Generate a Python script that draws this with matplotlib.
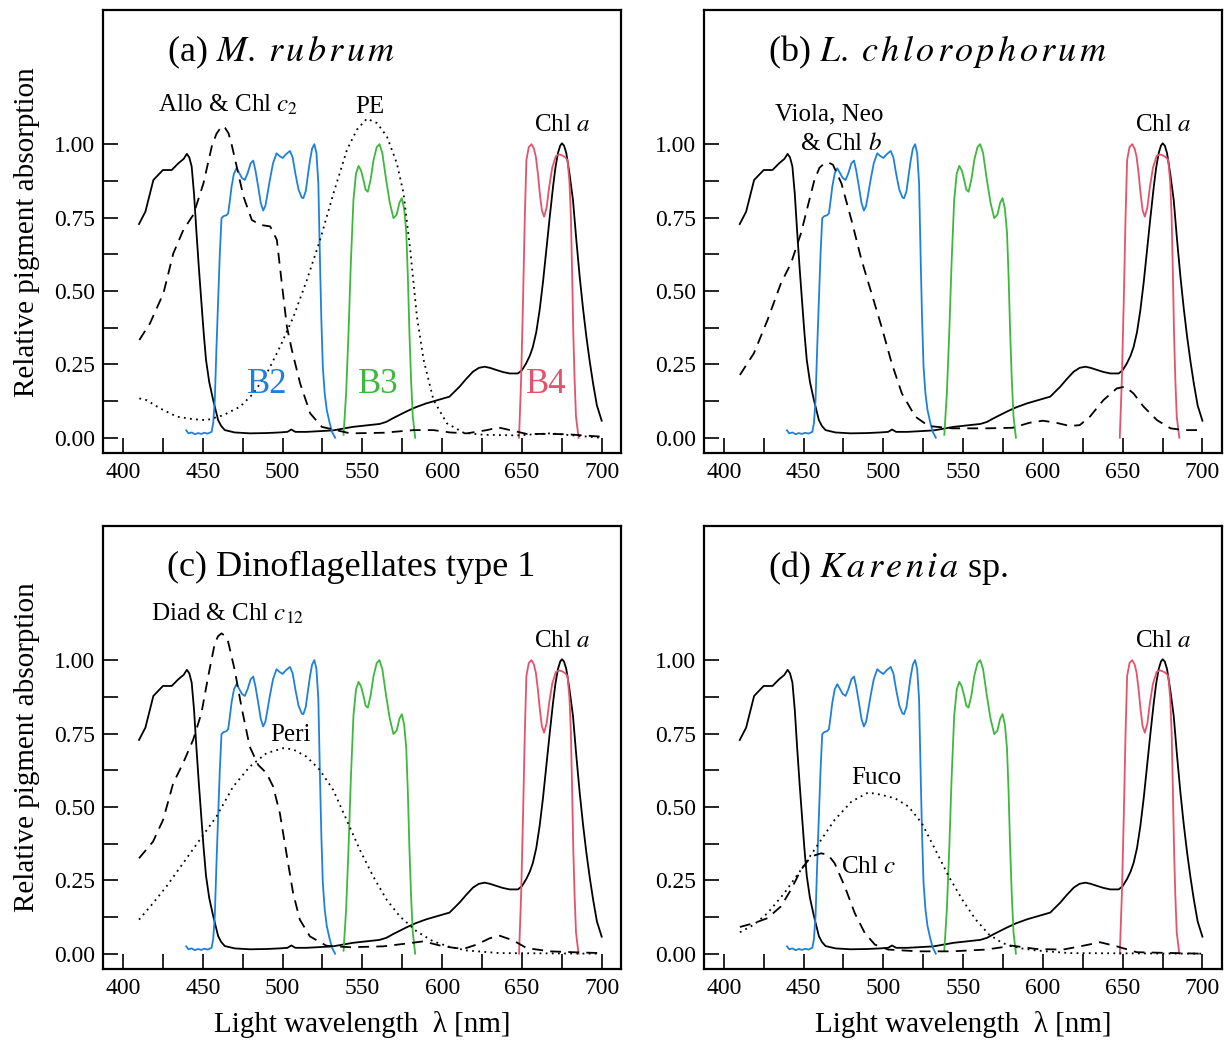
import matplotlib
matplotlib.use("Agg")
import matplotlib.pyplot as plt
from matplotlib.ticker import FixedLocator, FormatStrFormatter

plt.rcParams['font.family'] = ['Liberation Serif', 'DejaVu Serif']
plt.rcParams['mathtext.fontset'] = 'stix'

# ---------------- common curves ----------------
chla_wl = [410, 414, 419, 425, 430.5, 434.7, 438, 440, 441.5, 443, 444.5, 446, 447.5, 449,
           450.5, 452, 454, 456.5, 459.6, 461.5, 463.8, 470, 479.5, 490, 498, 503, 505.5, 508,
           515, 531.6, 544, 560.8, 565, 569, 573, 577.4, 583, 590, 597, 604.6, 610.9, 615,
           619.3, 623, 626.6, 630, 633.9, 638, 642.3, 647.5, 650, 652.7, 655, 656.9, 659,
           661.1, 663.2, 665.3, 667.4, 669.5, 671, 672.6, 674, 675.1, 676.4, 677.8, 679.8, 682,
           684, 686.2, 688.3, 690.4, 692.5, 694.6, 697, 700]
chla_val = [0.728, 0.77, 0.878, 0.912, 0.912, 0.935, 0.95, 0.967, 0.955, 0.924, 0.83, 0.70,
            0.58, 0.469, 0.36, 0.265, 0.19, 0.128, 0.06, 0.04, 0.026, 0.018, 0.015, 0.016,
            0.018, 0.02, 0.028, 0.02, 0.02, 0.025, 0.037, 0.047, 0.054, 0.066, 0.077, 0.089,
            0.103, 0.117, 0.128, 0.14, 0.174, 0.2, 0.225, 0.238, 0.242, 0.238, 0.231, 0.224,
            0.219, 0.219, 0.23, 0.254, 0.28, 0.31, 0.36, 0.435, 0.53, 0.64, 0.75, 0.855, 0.92,
            0.97, 0.995, 1.003, 0.995, 0.97, 0.9, 0.81, 0.68, 0.549, 0.44, 0.344, 0.26, 0.185,
            0.11, 0.058]

b2_wl = [439.6, 441, 443, 445, 447, 449, 451, 453, 455.5, 456.5, 457.5, 458.5, 459.6, 460.6,
         461.7, 463, 464.8, 465.9, 467, 468, 469.5, 471.1, 472.5, 474.5, 476.3, 478, 480,
         481.6, 483, 484.7, 486.3, 487.8, 489.2, 490.5, 492, 494, 496.2, 498, 500, 502, 504.6,
         506.3, 508, 510, 512, 513, 514.5, 516, 517.2, 518.5, 519.9, 521.2, 522.4, 523.5,
         524.3, 525.2, 526.4, 527.7, 529.5, 531, 532.9]
b2_val = [0.025, 0.015, 0.018, 0.012, 0.016, 0.013, 0.017, 0.014, 0.02, 0.05, 0.128, 0.3,
          0.469, 0.62, 0.748, 0.755, 0.758, 0.765, 0.81, 0.855, 0.9, 0.918, 0.905, 0.885,
          0.878, 0.9, 0.935, 0.944, 0.91, 0.855, 0.8, 0.774, 0.79, 0.83, 0.878, 0.935, 0.969,
          0.96, 0.953, 0.965, 0.977, 0.955, 0.9, 0.845, 0.818, 0.816, 0.84, 0.9, 0.946, 0.985,
          1.0, 0.97, 0.867, 0.583, 0.4, 0.242, 0.15, 0.094, 0.05, 0.02, 0.0]

b3_wl = [538.2, 539.8, 541.3, 542.8, 544.4, 546, 547.6, 549.2, 550.7, 552, 553.4, 555.2, 557,
         559, 560.7, 562.5, 564.9, 567.2, 569.5, 571.5, 573.2, 574.7, 576.2, 577.5, 578.5,
         579.5, 580.5, 581.6, 583.1]
b3_val = [0.01, 0.15, 0.356, 0.6, 0.81, 0.9, 0.926, 0.91, 0.878, 0.845, 0.838, 0.88, 0.946,
          0.99, 1.0, 0.97, 0.878, 0.8, 0.748, 0.76, 0.8, 0.816, 0.78, 0.70, 0.55, 0.356, 0.2,
          0.072, 0.0]

b4_wl = [648.2, 649.5, 650.7, 651.8, 652.8, 654.3, 656, 657.5, 658.7, 660, 661.2, 662.5,
         663.9, 665.5, 667.1, 669, 671.3, 673.5, 675.5, 677.2, 678.6, 679.8, 680.7, 681.5,
         682.2, 683, 683.9, 685.5]
b4_val = [0.0, 0.2, 0.469, 0.75, 0.946, 0.99, 1.0, 0.985, 0.958, 0.9, 0.833, 0.775, 0.753,
          0.785, 0.855, 0.92, 0.96, 0.965, 0.961, 0.955, 0.946, 0.87, 0.753, 0.55, 0.356, 0.2,
          0.072, 0.0]

# ---------------- panel (a) pigments ----------------
allo_wl = [410.2, 416.9, 425.3, 431.5, 437.8, 444.1, 450.4, 455.6, 458.5, 461.9, 464, 466.1,
           468, 470.3, 475.5, 480.7, 486, 492.2, 496.4, 499.5, 502.7, 505.8, 511, 517.3, 524.6,
           542.4, 563.3, 582.1, 594.6, 605, 615.5, 628, 635.3, 642.6, 653, 667.7, 678, 699]
allo_val = [0.333, 0.39, 0.492, 0.628, 0.708, 0.76, 0.867, 0.992, 1.035, 1.062, 1.055, 1.037,
            1.0, 0.946, 0.821, 0.742, 0.725, 0.72, 0.674, 0.526, 0.378, 0.299, 0.185, 0.083,
            0.037, 0.015, 0.017, 0.026, 0.026, 0.018, 0.015, 0.026, 0.035, 0.026, 0.013, 0.013,
            0.012, 0.004]

pe_wl = [410.2, 414.8, 423.2, 433.6, 444.1, 452.4, 462.9, 473.4, 481.7, 490.1, 498.4, 506.8,
         515.2, 523.5, 531.9, 540.3, 546.5, 552.8, 559.1, 565.4, 571.6, 575.8, 580, 584.2,
         588.4, 594.6, 603, 613.5, 626, 647, 667.7, 678, 699]
pe_val = [0.134, 0.128, 0.1, 0.072, 0.063, 0.06, 0.077, 0.106, 0.151, 0.219, 0.31, 0.412,
          0.537, 0.674, 0.833, 0.98, 1.049, 1.087, 1.072, 1.026, 0.935, 0.833, 0.64, 0.412,
          0.265, 0.128, 0.049, 0.017, 0.01, 0.008, 0.015, 0.01, 0.0]

# ---------------- panel (b) pigments ----------------
viola_wl = [410.1, 418.9, 427.4, 435.8, 442.1, 448.4, 452.6, 456.8, 460, 463.2, 465.8, 468.4,
            473.7, 480, 486.3, 492.6, 498.9, 505.3, 511.6, 520, 528.4, 543.1, 564.2, 581,
            591.6, 600, 608.4, 616.8, 623.1, 629.5, 637.9, 646.3, 651.5, 656.8, 663.1, 671.5,
            680, 688.4, 699]
viola_val = [0.214, 0.288, 0.401, 0.526, 0.594, 0.697, 0.788, 0.878, 0.92, 0.935, 0.937, 0.93,
             0.867, 0.742, 0.606, 0.492, 0.378, 0.253, 0.151, 0.072, 0.04, 0.032, 0.032, 0.034,
             0.051, 0.058, 0.051, 0.04, 0.043, 0.072, 0.128, 0.168, 0.174, 0.151, 0.106, 0.06,
             0.032, 0.026, 0.026]

# ---------------- panel (c) pigments ----------------
diad_wl = [410, 418.8, 425.1, 431.4, 437.6, 443.9, 449.1, 453.3, 457.5, 459.6, 461.7, 463.8,
           465.9, 470, 474.2, 479.4, 484.7, 489.9, 494.1, 498.3, 502.4, 506.6, 510.8, 517.1,
           527.5, 542.2, 563.1, 579.8, 588.2, 600.7, 613.2, 621.6, 630, 636.2, 644.6, 653,
           667.6, 682.2, 700]
diad_val = [0.325, 0.382, 0.456, 0.58, 0.649, 0.728, 0.819, 0.943, 1.057, 1.082, 1.091, 1.083,
            1.062, 0.966, 0.841, 0.705, 0.643, 0.615, 0.569, 0.478, 0.342, 0.206, 0.116, 0.059,
            0.027, 0.022, 0.025, 0.036, 0.042, 0.025, 0.016, 0.031, 0.053, 0.061, 0.045, 0.019,
            0.008, 0.005, 0.002]

peri_wl = [410, 418.8, 427.2, 437.6, 448.1, 458.5, 469, 479.4, 489.9, 500.3, 506.6, 515, 523.3,
           531.7, 540.1, 548.4, 556.8, 565.2, 573.5, 584, 594.4, 604.9, 615.3, 636.2, 699]
peri_val = [0.116, 0.172, 0.229, 0.308, 0.388, 0.467, 0.569, 0.637, 0.683, 0.70, 0.696, 0.671,
            0.626, 0.558, 0.456, 0.354, 0.263, 0.184, 0.127, 0.076, 0.042, 0.023, 0.011, 0.002,
            0.0]

# ---------------- panel (d) pigments ----------------
chlc_wl = [410.1, 418.9, 427.4, 435.8, 442.1, 448.4, 454.7, 461, 465.3, 469.5, 475.8, 482.1,
           488.4, 494.7, 503.1, 522.1, 543.1, 564.2, 581, 595.8, 612.6, 625.2, 635.8, 646.3,
           658.9, 700]
chlc_val = [0.091, 0.104, 0.121, 0.161, 0.218, 0.286, 0.331, 0.342, 0.337, 0.308, 0.229, 0.138,
            0.07, 0.031, 0.014, 0.008, 0.008, 0.014, 0.027, 0.016, 0.014, 0.027, 0.039, 0.025,
            0.005, 0.0]

fuco_wl = [410.1, 418.9, 427.4, 437.9, 448.4, 458.9, 469.5, 480, 490.5, 498.9, 507.4, 515.8,
           524.2, 532.6, 541, 549.5, 557.9, 566.3, 574.7, 585.2, 595.8, 616.8, 700]
fuco_val = [0.073, 0.099, 0.138, 0.206, 0.286, 0.371, 0.456, 0.518, 0.549, 0.541, 0.529, 0.501,
            0.444, 0.354, 0.263, 0.184, 0.116, 0.065, 0.036, 0.019, 0.011, 0.002, 0.0]

xticks_major = [400, 450, 500, 550, 600, 650, 700]
xticks_minor = [425, 475, 525, 575, 625, 675]
yticks_major = [0.00, 0.25, 0.50, 0.75, 1.00]
yticks_minor = [0.125, 0.375, 0.625, 0.875]

BLUE = '#1e80dc'
GREEN = '#3cb83c'
RED = '#e4526c'
DASH = (0, (6, 4))
DOT = (0, (1, 2.4))

fig = plt.figure(figsize=(12.28, 10.44), dpi=100)
positions = {
    'a': [0.0841, 0.5658, 0.4216, 0.4246],
    'b': [0.5733, 0.5658, 0.4216, 0.4246],
    'c': [0.0841, 0.0716, 0.4216, 0.4246],
    'd': [0.5733, 0.0716, 0.4216, 0.4246],
}


def spaced(word, sp=0.13):
    """Italic math word with slight letter spacing."""
    return (r'\hspace{%s}' % sp).join(list(word))


def base(key, title, ylabel, xlabel):
    ax = fig.add_axes(positions[key])
    ax.plot(chla_wl, chla_val, color='black', lw=1.3)
    ax.plot(b2_wl, b2_val, color=BLUE, lw=1.3)
    ax.plot(b3_wl, b3_val, color=GREEN, lw=1.3)
    ax.plot(b4_wl, b4_val, color=RED, lw=1.3)
    ax.set_xlim(387.6, 712.1)
    ax.set_ylim(-0.053, 1.457)
    ax.xaxis.set_major_locator(FixedLocator(xticks_major))
    ax.xaxis.set_minor_locator(FixedLocator(xticks_minor))
    ax.yaxis.set_major_locator(FixedLocator(yticks_major))
    ax.yaxis.set_minor_locator(FixedLocator(yticks_minor))
    ax.yaxis.set_major_formatter(FormatStrFormatter('%.2f'))
    ax.tick_params(which='both', direction='in', length=11, width=1.2,
                   top=False, right=False, labelsize=17, pad=6)
    for s in ax.spines.values():
        s.set_linewidth(1.6)
    ax.text(427.6, 1.314, title, fontsize=26, ha='left', va='center')
    ax.text(675.5, 1.066, 'Chl $a$', fontsize=18, ha='center', va='center')
    if ylabel:
        ax.set_ylabel('Relative pigment absorption', fontsize=21)
        ax.yaxis.set_label_coords(-0.122, 0.5)
    if xlabel:
        ax.set_xlabel('Light wavelength  \u03bb [nm]', fontsize=21)
        ax.xaxis.set_label_coords(0.5, -0.094)
    return ax


# (a)
ax = base('a', r'(a) $%s.\hspace{0.3}%s$' % ('M', spaced('rubrum')), True, False)
ax.plot(allo_wl, allo_val, color='black', lw=1.3, ls=DASH)
ax.plot(pe_wl, pe_val, color='black', lw=1.3, ls=DOT)
ax.text(465.8, 1.134, 'Allo & Chl $c_2$', fontsize=18, ha='center', va='center')
ax.text(554.8, 1.127, 'PE', fontsize=18, ha='center', va='center')
ax.text(490.1, 0.18, 'B2', fontsize=25, color=BLUE, ha='center', va='center')
ax.text(559.8, 0.18, 'B3', fontsize=25, color=GREEN, ha='center', va='center')
ax.text(665.2, 0.18, 'B4', fontsize=25, color=RED, ha='center', va='center')

# (b)
ax = base('b', r'(b) $L.\hspace{0.3}%s$' % spaced('chlorophorum'), False, False)
ax.plot(viola_wl, viola_val, color='black', lw=1.3, ls=DASH)
ax.text(466, 1.10, 'Viola, Neo', fontsize=18, ha='center', va='center')
ax.text(473.7, 1.00, '& Chl $b$', fontsize=18, ha='center', va='center')

# (c)
ax = base('c', '(c) Dinoflagellates type 1', True, True)
ax.plot(diad_wl, diad_val, color='black', lw=1.3, ls=DASH)
ax.plot(peri_wl, peri_val, color='black', lw=1.3, ls=DOT)
ax.text(465.2, 1.156, 'Diad & Chl $c_{12}$', fontsize=18, ha='center', va='center')
ax.text(504.7, 0.745, 'Peri', fontsize=18, ha='center', va='center')

# (d)
ax = base('d', r'(d) $%s$ sp.' % spaced('Karenia'), False, True)
ax.plot(chlc_wl, chlc_val, color='black', lw=1.3, ls=DASH)
ax.plot(fuco_wl, fuco_val, color='black', lw=1.3, ls=DOT)
ax.text(495.8, 0.599, 'Fuco', fontsize=18, ha='center', va='center')
ax.text(490.7, 0.296, 'Chl $c$', fontsize=18, ha='center', va='center')

fig.savefig('out.png', dpi=100)
